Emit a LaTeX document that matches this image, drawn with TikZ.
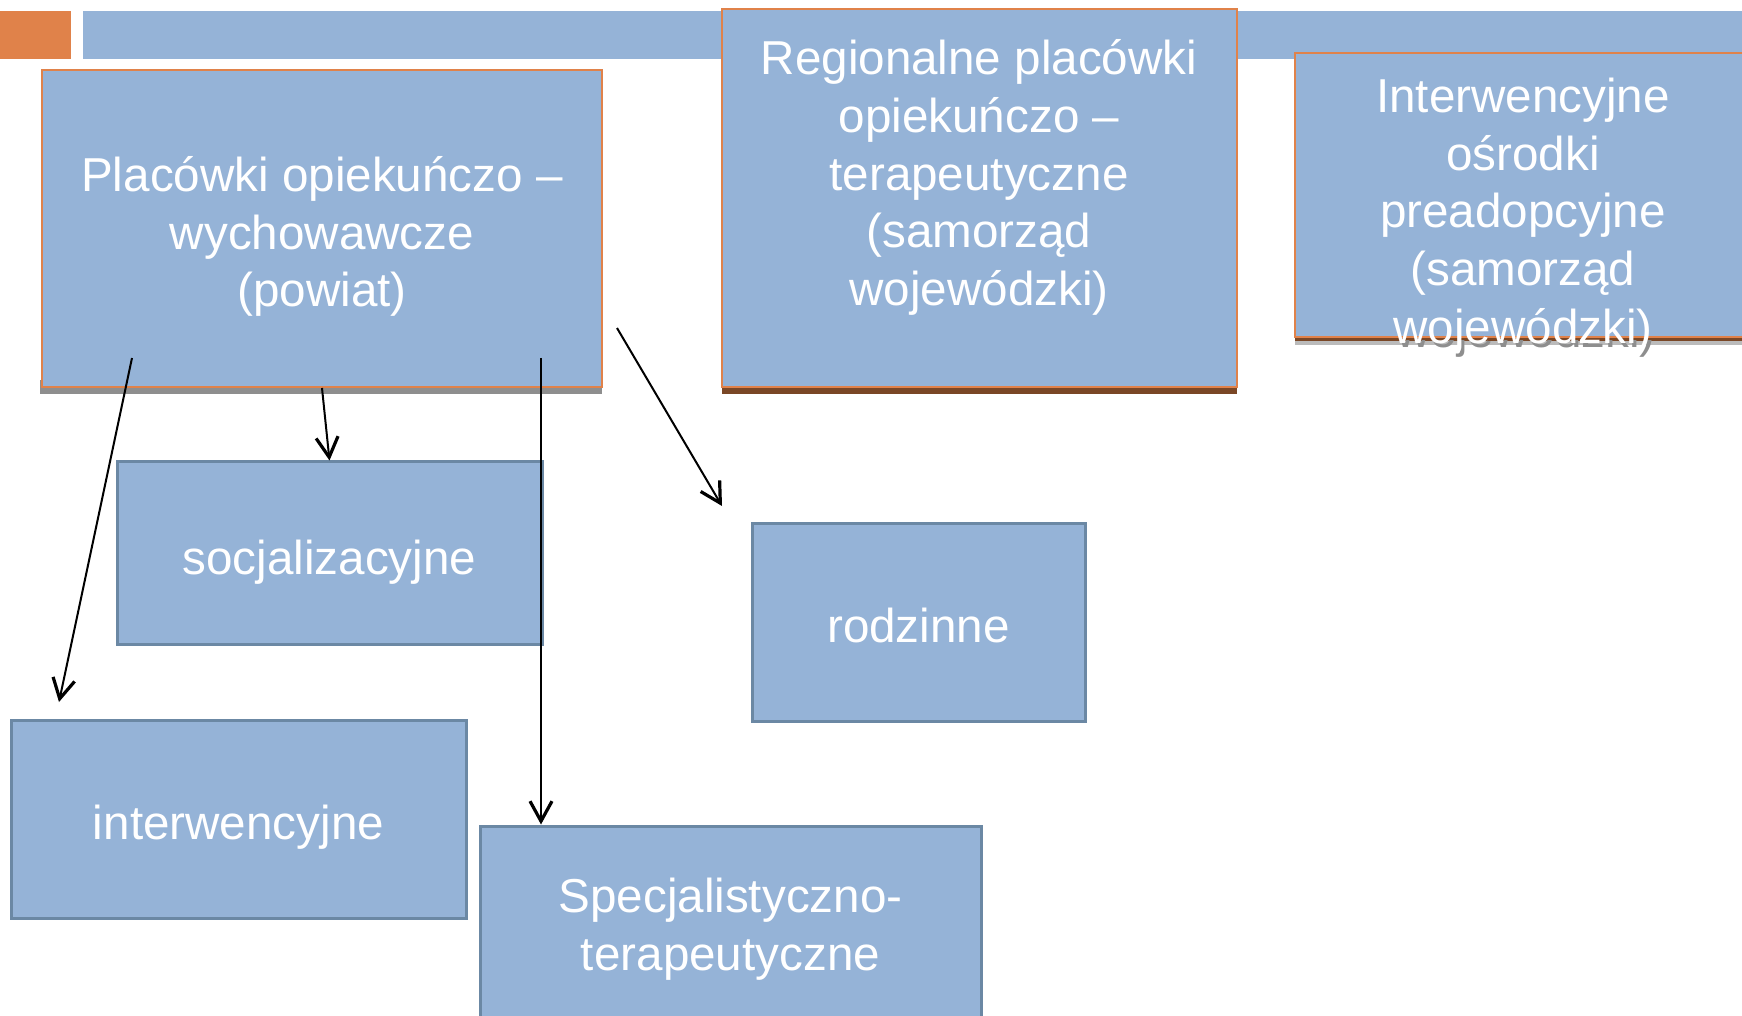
\documentclass[tikz,border=0pt]{standalone}
\usepackage{fontspec}
\setmainfont{Liberation Sans}
\usepackage{tikz}
\usetikzlibrary{arrows.meta,positioning}
\definecolor{boxblue}{HTML}{95B3D7}
\definecolor{boxedge}{HTML}{6B88A4}
\definecolor{accent}{HTML}{E0824A}
\definecolor{bandbrown}{HTML}{7A4726}
\definecolor{shadowgrey}{HTML}{8E8E8E}
\tikzset{font=\fontsize{23.8}{28.8}\selectfont}
\tikzset{topbox/.style={draw=accent, line width=1pt, fill=boxblue, inner sep=0pt}}
\tikzset{lowbox/.style={draw=boxedge, line width=1.5pt, fill=boxblue, inner sep=0pt}}
\tikzset{boxtext/.style={text=white, align=center, inner sep=0pt}}
\tikzset{link/.style={line width=1pt,
    -{Straight Barb[length=10pt,width=11pt,line width=1.6pt]}}}

\begin{document}
\begin{tikzpicture}[x=0.5pt,y=-0.5pt]
  \useasboundingbox (0,0) rectangle (1742,1016);

  % title bar
  \fill[accent] (0,11) rectangle (71,59);
  \fill[boxblue] (83,11) rectangle (1742,59);

  % upper boxes
  \fill[shadowgrey] (40,380) rectangle (602,394);
  \node[topbox, minimum width=280pt, minimum height=158.5pt] (placowki) at (322,228.5) {};
  \node[boxtext] (placowkiT) at ([yshift=-4pt]placowki.center)
  {Placówki opiekuńczo –\\wychowawcze\\(powiat)};

  \fill[bandbrown] (722,380) rectangle (1237,394);
  \node[topbox, minimum width=257.5pt, minimum height=189pt] (regional) at (979.5,198) {};
  \node[boxtext] (regionalT) at (979,177.5)
  {Regionalne placówki\\opiekuńczo –\\terapeutyczne\\(samorząd\\wojewódzki)};

  \fill[shadowgrey!60] (1295,337) rectangle (1760,345);
  \fill[bandbrown] (1295,331) rectangle (1760,341);
  \node[topbox, minimum width=232.5pt, minimum height=142pt] (osrodki) at (1527.5,195) {};
  \begin{scope}
    \clip (1295,341) rectangle (1742,420);
    \node[boxtext, text=shadowgrey] (osrodkiS) at (1526,219.5)
    {Interwencyjne\\ośrodki\\preadopcyjne\\(samorząd\\wojewódzki)};
  \end{scope}
  \node[boxtext] (osrodkiT) at (1523,215.5)
  {Interwencyjne\\ośrodki\\preadopcyjne\\(samorząd\\wojewódzki)};

  % lower boxes
  \node[lowbox, minimum width=212.5pt, minimum height=91pt] (socjal) at (329.5,553) {};
  \node[boxtext] (socjalT) at ([yshift=-4.5pt]socjal.center) {socjalizacyjne};
  \node[lowbox, minimum width=166.5pt, minimum height=99pt] (rodzinne) at (918.5,622) {};
  \node[boxtext] (rodzinneT) at ([yshift=-1.5pt]rodzinne.center) {rodzinne};
  \node[lowbox, minimum width=227.5pt, minimum height=99pt] (interw) at (238.5,819) {};
  \node[boxtext] (interwT) at ([yshift=-4pt]interw.center) {interwencyjne};
  \node[lowbox, minimum width=250.5pt, minimum height=102pt] (specjal) at (730.5,928) {};
  \node[boxtext] (specjalT) at ([yshift=-0.5pt]specjal.center)
  {Specjalistyczno-\\terapeutyczne};

  % connectors
  \coordinate (tailL) at (132,358);
  \coordinate (headL) at (59,702);
  \coordinate (tailR) at (541,358);
  \coordinate (tailF) at (617,328);
  \coordinate (headF) at (722,506);

  \draw[link] (placowki.south) -- (socjal.north);
  \draw[link] (tailL) -- (headL);
  \draw[link] (tailR) -- (tailR |- specjal.north);
  \draw[link] (tailF) -- (headF);

\end{tikzpicture}
\end{document}
